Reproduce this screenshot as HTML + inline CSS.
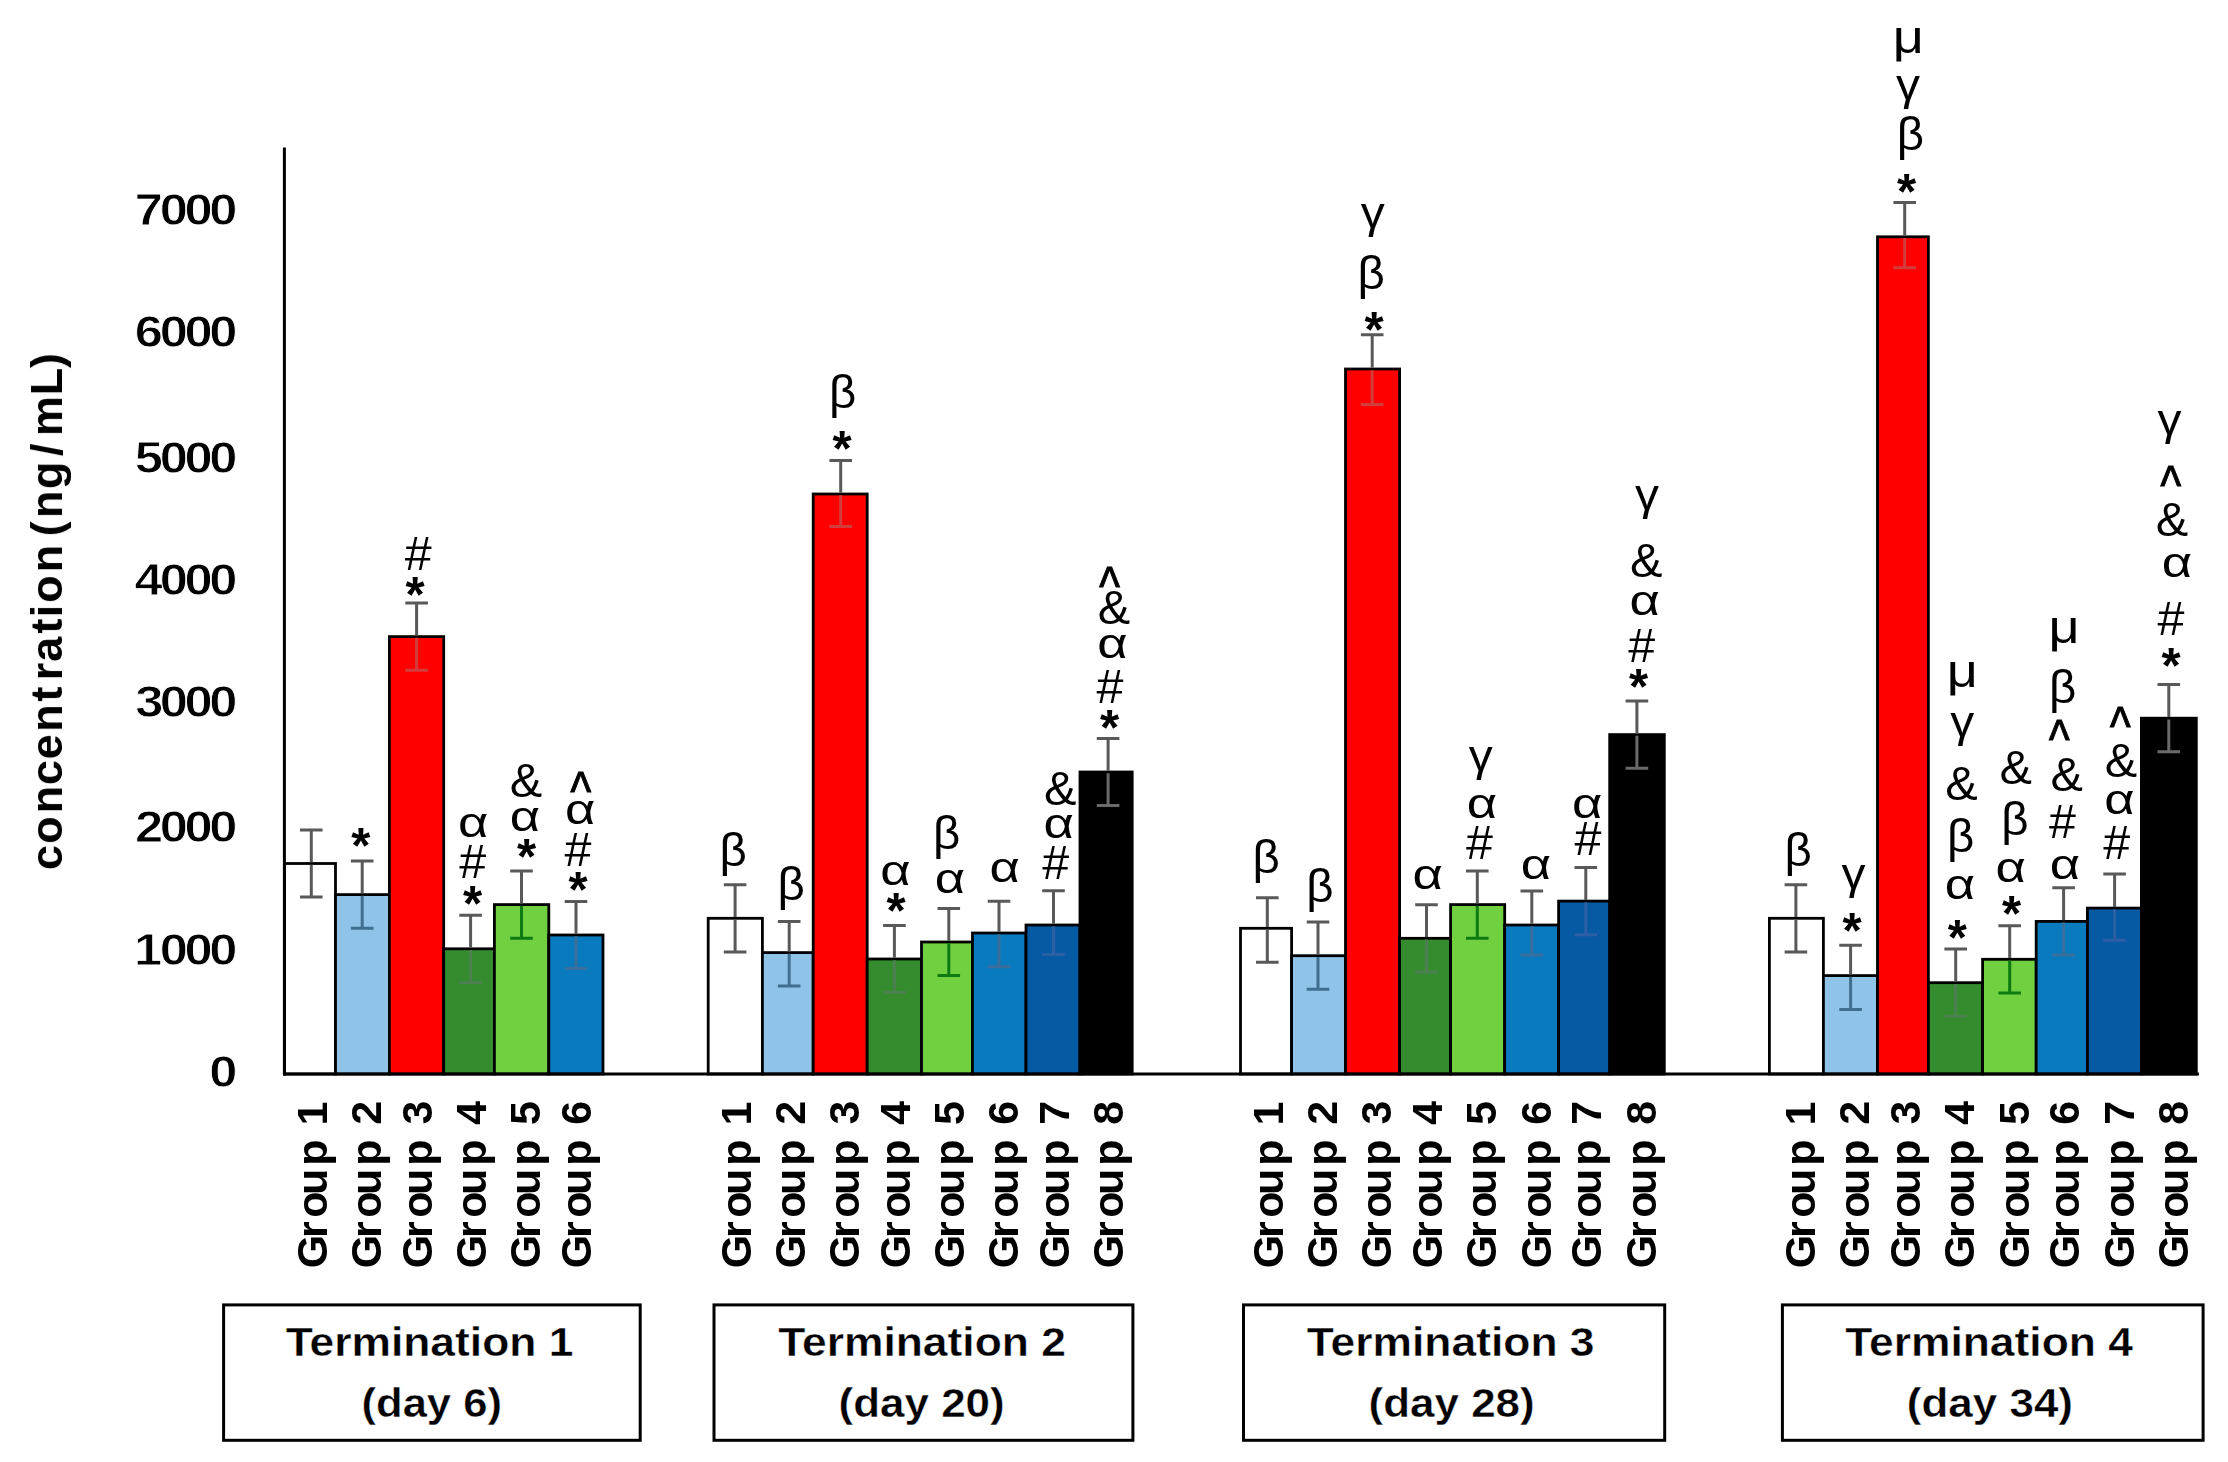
<!DOCTYPE html>
<html lang="en"><head><meta charset="utf-8"><title>Concentration chart</title>
<style>html,body{margin:0;padding:0;background:#fff}svg{display:block}text{font-family:"Liberation Sans",sans-serif;fill:#000}.b{font-weight:bold}.k{stroke:#fff;stroke-width:0.4}.bar{stroke:#000;stroke-width:2.8}.t{stroke:#fff;stroke-width:0.8}.e{stroke:#595959;stroke-width:3;fill:none}</style></head><body>
<svg width="2228" height="1462" viewBox="0 0 2228 1462" role="img" aria-label="Bar chart of concentration (ng/mL) by group and termination day">
<rect width="2228" height="1462" fill="#fff"/>
<g id="chart" style="filter:blur(0.55px)">
<g class="bar">
<rect x="284.5" y="863.5" width="51" height="210.5" fill="#ffffff"/>
<rect x="335.5" y="894.6" width="53.9" height="179.4" fill="#8fc3e8"/>
<rect x="389.4" y="636.6" width="54.3" height="437.4" fill="#ff0000"/>
<rect x="443.7" y="948.8" width="50.7" height="125.2" fill="#358c2e"/>
<rect x="494.4" y="904.6" width="54.4" height="169.4" fill="#70d040"/>
<rect x="548.8" y="935" width="54.2" height="139" fill="#0a7abf"/>
<rect x="708.2" y="918.3" width="54.2" height="155.7" fill="#ffffff"/>
<rect x="762.4" y="952.6" width="50.8" height="121.4" fill="#8fc3e8"/>
<rect x="813.2" y="494" width="54" height="580" fill="#ff0000"/>
<rect x="867.2" y="959" width="54.3" height="115" fill="#358c2e"/>
<rect x="921.5" y="942" width="51" height="132" fill="#70d040"/>
<rect x="972.5" y="933" width="53.5" height="141" fill="#0a7abf"/>
<rect x="1026" y="925" width="54" height="149" fill="#0659a3"/>
<rect x="1080" y="772" width="52.2" height="302" fill="#000000"/>
<rect x="1240.5" y="928.3" width="51.1" height="145.7" fill="#ffffff"/>
<rect x="1291.6" y="955.7" width="53.9" height="118.3" fill="#8fc3e8"/>
<rect x="1345.5" y="369" width="54.1" height="705" fill="#ff0000"/>
<rect x="1399.6" y="938.3" width="51" height="135.7" fill="#358c2e"/>
<rect x="1450.6" y="904.6" width="54.1" height="169.4" fill="#70d040"/>
<rect x="1504.7" y="925" width="53.9" height="149" fill="#0a7abf"/>
<rect x="1558.6" y="901.1" width="51.1" height="172.9" fill="#0659a3"/>
<rect x="1609.7" y="734.6" width="54.6" height="339.4" fill="#000000"/>
<rect x="1769.4" y="918.3" width="54" height="155.7" fill="#ffffff"/>
<rect x="1823.4" y="975.6" width="54.1" height="98.4" fill="#8fc3e8"/>
<rect x="1877.5" y="236.8" width="50.9" height="837.2" fill="#ff0000"/>
<rect x="1928.4" y="982.7" width="54.2" height="91.3" fill="#358c2e"/>
<rect x="1982.6" y="959.3" width="53.6" height="114.7" fill="#70d040"/>
<rect x="2036.2" y="921.4" width="51.2" height="152.6" fill="#0a7abf"/>
<rect x="2087.4" y="908.1" width="54" height="165.9" fill="#0659a3"/>
<rect x="2141.4" y="718.2" width="54.9" height="355.8" fill="#000000"/>
</g>
<line x1="284.4" y1="147.5" x2="284.4" y2="1075.4" stroke="#000" stroke-width="3"/>
<line x1="283.2" y1="1074" x2="2198.9" y2="1074" stroke="#000" stroke-width="3"/>
<path class="e" d="M300 829.9H322.6M311.3 829.9V862.3"/>
<path class="e" style="stroke:#595959" d="M311.3 864.7V897.1M300 897.1H322.6"/>
<path class="e" d="M350.9 861H373.5M362.2 861V893.4"/>
<path class="e" style="stroke:#3f6f8f" d="M362.2 895.8V928.2M350.9 928.2H373.5"/>
<path class="e" d="M405.3 603H427.9M416.6 603V635.4"/>
<path class="e" style="stroke:#d23c3c" d="M416.6 637.8V670.2M405.3 670.2H427.9"/>
<path class="e" d="M459.3 915.2H481.9M470.6 915.2V947.6"/>
<path class="e" style="stroke:#4c8050" d="M470.6 950V982.4M459.3 982.4H481.9"/>
<path class="e" d="M510.2 871H532.8M521.5 871V903.4"/>
<path class="e" style="stroke:#0e7a12" d="M521.5 905.8V938.2M510.2 938.2H532.8"/>
<path class="e" d="M564.7 901.4H587.3M576 901.4V933.8"/>
<path class="e" style="stroke:#3a6e9c" d="M576 936.2V968.6M564.7 968.6H587.3"/>
<path class="e" d="M723.8 884.7H746.4M735.1 884.7V917.1"/>
<path class="e" style="stroke:#595959" d="M735.1 919.5V951.9M723.8 951.9H746.4"/>
<path class="e" d="M777.9 921.4H800.5M789.2 921.4V951.4"/>
<path class="e" style="stroke:#3f6f8f" d="M789.2 953.8V986M777.9 986H800.5"/>
<path class="e" d="M829.4 460.5H852M840.7 460.5V492.8"/>
<path class="e" style="stroke:#d23c3c" d="M840.7 495.2V526.5M829.4 526.5H852"/>
<path class="e" d="M883.1 925.4H905.7M894.4 925.4V957.8"/>
<path class="e" style="stroke:#4c8050" d="M894.4 960.2V992.6M883.1 992.6H905.7"/>
<path class="e" d="M937.5 908.4H960.1M948.8 908.4V940.8"/>
<path class="e" style="stroke:#0e7a12" d="M948.8 943.2V975.6M937.5 975.6H960.1"/>
<path class="e" d="M987.7 901.2H1010.3M999 901.2V931.8"/>
<path class="e" style="stroke:#3a6e9c" d="M999 934.2V966.8M987.7 966.8H1010.3"/>
<path class="e" d="M1042.2 890.8H1064.8M1053.5 890.8V923.8"/>
<path class="e" style="stroke:#2c5fa3" d="M1053.5 926.2V954.6M1042.2 954.6H1064.8"/>
<path class="e" d="M1096.8 738.4H1119.4M1108.1 738.4V770.8"/>
<path class="e" style="stroke:#6a6a6a" d="M1108.1 773.2V805.6M1096.8 805.6H1119.4"/>
<path class="e" d="M1256 897.7H1278.6M1267.3 897.7V927.1"/>
<path class="e" style="stroke:#595959" d="M1267.3 929.5V962.3M1256 962.3H1278.6"/>
<path class="e" d="M1306.7 922.1H1329.3M1318 922.1V954.5"/>
<path class="e" style="stroke:#3f6f8f" d="M1318 956.9V989.3M1306.7 989.3H1329.3"/>
<path class="e" d="M1360.9 334.8H1383.5M1372.2 334.8V367.8"/>
<path class="e" style="stroke:#d23c3c" d="M1372.2 370.2V404.4M1360.9 404.4H1383.5"/>
<path class="e" d="M1415.2 904.7H1437.8M1426.5 904.7V937.1"/>
<path class="e" style="stroke:#4c8050" d="M1426.5 939.5V971.9M1415.2 971.9H1437.8"/>
<path class="e" d="M1466 871H1488.6M1477.3 871V903.4"/>
<path class="e" style="stroke:#0e7a12" d="M1477.3 905.8V938.2M1466 938.2H1488.6"/>
<path class="e" d="M1520.5 891H1543.1M1531.8 891V923.8"/>
<path class="e" style="stroke:#3a6e9c" d="M1531.8 926.2V955M1520.5 955H1543.1"/>
<path class="e" d="M1574.5 867.5H1597.1M1585.8 867.5V899.9"/>
<path class="e" style="stroke:#2c5fa3" d="M1585.8 902.3V934.7M1574.5 934.7H1597.1"/>
<path class="e" d="M1625.6 701H1648.2M1636.9 701V733.4"/>
<path class="e" style="stroke:#6a6a6a" d="M1636.9 735.8V768.2M1625.6 768.2H1648.2"/>
<path class="e" d="M1784.6 884.7H1807.2M1795.9 884.7V917.1"/>
<path class="e" style="stroke:#595959" d="M1795.9 919.5V951.9M1784.6 951.9H1807.2"/>
<path class="e" d="M1839.3 945.2H1861.9M1850.6 945.2V974.4"/>
<path class="e" style="stroke:#3f6f8f" d="M1850.6 976.8V1009.6M1839.3 1009.6H1861.9"/>
<path class="e" d="M1893.4 202.6H1916M1904.7 202.6V235.6"/>
<path class="e" style="stroke:#d23c3c" d="M1904.7 238V267.8M1893.4 267.8H1916"/>
<path class="e" d="M1944.4 949.1H1967M1955.7 949.1V981.5"/>
<path class="e" style="stroke:#4c8050" d="M1955.7 983.9V1016.3M1944.4 1016.3H1967"/>
<path class="e" d="M1998.4 925.7H2021M2009.7 925.7V958.1"/>
<path class="e" style="stroke:#0e7a12" d="M2009.7 960.5V992.9M1998.4 992.9H2021"/>
<path class="e" d="M2052.3 887.8H2074.9M2063.6 887.8V920.2"/>
<path class="e" style="stroke:#3a6e9c" d="M2063.6 922.6V955M2052.3 955H2074.9"/>
<path class="e" d="M2103.3 874.1H2125.9M2114.6 874.1V906.9"/>
<path class="e" style="stroke:#2c5fa3" d="M2114.6 909.3V940.3M2103.3 940.3H2125.9"/>
<path class="e" d="M2157.5 684.6H2180.1M2168.8 684.6V717"/>
<path class="e" style="stroke:#6a6a6a" d="M2168.8 719.4V751.8M2157.5 751.8H2180.1"/>
<text class="b t" font-size="44" transform="translate(0 225.12) scale(1.15 1)" x="117.28 138.87 160.46 182.05">7000</text>
<text class="b t" font-size="44" transform="translate(0 347.23) scale(1.15 1)" x="117.22 138.87 160.46 182.05">6000</text>
<text class="b t" font-size="44" transform="translate(0 472.73) scale(1.15 1)" x="117.17 138.87 160.46 182.05">5000</text>
<text class="b t" font-size="44" transform="translate(0 594.92) scale(1.15 1)" x="117.06 138.87 160.46 182.05">4000</text>
<text class="b t" font-size="44" transform="translate(0 717.22) scale(1.15 1)" x="117.55 138.87 160.46 182.05">3000</text>
<text class="b t" font-size="44" transform="translate(0 842.22) scale(1.15 1)" x="117.39 138.87 160.46 182.05">2000</text>
<text class="b t" font-size="44" transform="translate(0 964.72) scale(1.15 1)" x="116.51 138.87 160.46 182.05">1000</text>
<text class="b t" font-size="44" transform="translate(0 1086.72) scale(1.15 1)" x="182.05">0</text>
<text class="b" font-size="45" transform="translate(62 865.1) rotate(-90)" x="-4.92 21.37 51.81 79.93 105.64 133.21 163.57 184.7 203.32 231.57 247.66 262.22 292.66 320 328.75 347.06 376.04 408.96 428.97 469.63 496.94">concentration (ng/mL)</text>
<text class="b" font-size="43" transform="translate(326.9 1265.6) rotate(-90)" x="-2.68 27.49 47.78 70.69 99.95 128 140.06">Group 1</text>
<text class="b" font-size="43" transform="translate(380.8 1265.6) rotate(-90)" x="-2.68 27.49 47.78 70.69 99.95 128 140.93">Group 2</text>
<text class="b" font-size="43" transform="translate(431.9 1265.6) rotate(-90)" x="-2.68 27.49 47.78 70.69 99.95 128 141.09">Group 3</text>
<text class="b" font-size="43" transform="translate(485.6 1265.6) rotate(-90)" x="-2.68 27.49 47.78 70.69 99.95 128 140.6">Group 4</text>
<text class="b" font-size="43" transform="translate(539.6 1265.6) rotate(-90)" x="-2.68 27.49 47.78 70.69 99.95 128 140.71">Group 5</text>
<text class="b" font-size="43" transform="translate(590.8 1265.6) rotate(-90)" x="-2.68 27.49 47.78 70.69 99.95 128 140.76">Group 6</text>
<text class="b" font-size="43" transform="translate(750.5 1265.6) rotate(-90)" x="-2.68 27.49 47.78 70.69 99.95 128 140.06">Group 1</text>
<text class="b" font-size="43" transform="translate(804.6 1265.6) rotate(-90)" x="-2.68 27.49 47.78 70.69 99.95 128 140.93">Group 2</text>
<text class="b" font-size="43" transform="translate(859 1265.6) rotate(-90)" x="-2.68 27.49 47.78 70.69 99.95 128 141.09">Group 3</text>
<text class="b" font-size="43" transform="translate(910 1265.6) rotate(-90)" x="-2.68 27.49 47.78 70.69 99.95 128 140.6">Group 4</text>
<text class="b" font-size="43" transform="translate(964 1265.6) rotate(-90)" x="-2.68 27.49 47.78 70.69 99.95 128 140.71">Group 5</text>
<text class="b" font-size="43" transform="translate(1018.1 1265.6) rotate(-90)" x="-2.68 27.49 47.78 70.69 99.95 128 140.76">Group 6</text>
<text class="b" font-size="43" transform="translate(1069 1265.6) rotate(-90)" x="-2.68 27.49 47.78 70.69 99.95 128 140.82">Group 7</text>
<text class="b" font-size="43" transform="translate(1123.1 1265.6) rotate(-90)" x="-2.68 27.49 47.78 70.69 99.95 128 140.76">Group 8</text>
<text class="b" font-size="43" transform="translate(1282.9 1265.6) rotate(-90)" x="-2.68 27.49 47.78 70.69 99.95 128 140.06">Group 1</text>
<text class="b" font-size="43" transform="translate(1337 1265.6) rotate(-90)" x="-2.68 27.49 47.78 70.69 99.95 128 140.93">Group 2</text>
<text class="b" font-size="43" transform="translate(1391.2 1265.6) rotate(-90)" x="-2.68 27.49 47.78 70.69 99.95 128 141.09">Group 3</text>
<text class="b" font-size="43" transform="translate(1442 1265.6) rotate(-90)" x="-2.68 27.49 47.78 70.69 99.95 128 140.6">Group 4</text>
<text class="b" font-size="43" transform="translate(1496.2 1265.6) rotate(-90)" x="-2.68 27.49 47.78 70.69 99.95 128 140.71">Group 5</text>
<text class="b" font-size="43" transform="translate(1550.5 1265.6) rotate(-90)" x="-2.68 27.49 47.78 70.69 99.95 128 140.76">Group 6</text>
<text class="b" font-size="43" transform="translate(1601.2 1265.6) rotate(-90)" x="-2.68 27.49 47.78 70.69 99.95 128 140.82">Group 7</text>
<text class="b" font-size="43" transform="translate(1655.6 1265.6) rotate(-90)" x="-2.68 27.49 47.78 70.69 99.95 128 140.76">Group 8</text>
<text class="b" font-size="43" transform="translate(1814.8 1265.6) rotate(-90)" x="-2.68 27.49 47.78 70.69 99.95 128 140.06">Group 1</text>
<text class="b" font-size="43" transform="translate(1869 1265.6) rotate(-90)" x="-2.68 27.49 47.78 70.69 99.95 128 140.93">Group 2</text>
<text class="b" font-size="43" transform="translate(1920 1265.6) rotate(-90)" x="-2.68 27.49 47.78 70.69 99.95 128 141.09">Group 3</text>
<text class="b" font-size="43" transform="translate(1974.4 1265.6) rotate(-90)" x="-2.68 27.49 47.78 70.69 99.95 128 140.6">Group 4</text>
<text class="b" font-size="43" transform="translate(2028.5 1265.6) rotate(-90)" x="-2.68 27.49 47.78 70.69 99.95 128 140.71">Group 5</text>
<text class="b" font-size="43" transform="translate(2079.4 1265.6) rotate(-90)" x="-2.68 27.49 47.78 70.69 99.95 128 140.76">Group 6</text>
<text class="b" font-size="43" transform="translate(2133.6 1265.6) rotate(-90)" x="-2.68 27.49 47.78 70.69 99.95 128 140.82">Group 7</text>
<text class="b" font-size="43" transform="translate(2187.7 1265.6) rotate(-90)" x="-2.68 27.49 47.78 70.69 99.95 128 140.76">Group 8</text>
<rect x="223.6" y="1304.9" width="416.6" height="135.4" fill="#fff" stroke="#000" stroke-width="3"/>
<text class="b k" font-size="41.5" transform="translate(285.64 1356.2) scale(1.07 1)">Termination 1</text>
<text class="b k" font-size="41.5" transform="translate(361.51 1417) scale(1.05 1)">(day 6)</text>
<rect x="714" y="1304.9" width="418.9" height="135.4" fill="#fff" stroke="#000" stroke-width="3"/>
<text class="b k" font-size="41.5" transform="translate(778.14 1356.2) scale(1.07 1)">Termination 2</text>
<text class="b k" font-size="41.5" transform="translate(838.5 1417) scale(1.06 1)">(day 20)</text>
<rect x="1243.5" y="1304.9" width="421.2" height="135.4" fill="#fff" stroke="#000" stroke-width="3"/>
<text class="b k" font-size="41.5" transform="translate(1306.74 1356.2) scale(1.07 1)">Termination 3</text>
<text class="b k" font-size="41.5" transform="translate(1368.51 1417) scale(1.06 1)">(day 28)</text>
<rect x="1782.4" y="1304.9" width="420.7" height="135.4" fill="#fff" stroke="#000" stroke-width="3"/>
<text class="b k" font-size="41.5" transform="translate(1845.14 1356.2) scale(1.07 1)">Termination 4</text>
<text class="b k" font-size="41.5" transform="translate(1906.8 1417) scale(1.06 1)">(day 34)</text>
<text font-size="49.66" font-weight="bold" transform="translate(351.18 863.39) scale(0.99 1)">*</text>
<text font-size="48.91" font-weight="normal" transform="translate(404.81 570.45) scale(0.99 1)">#</text>
<text font-size="49.66" font-weight="bold" transform="translate(405.38 612.39) scale(0.99 1)">*</text>
<text font-size="43.11" font-weight="normal" transform="translate(457.91 837.37) scale(1.22 1)">α</text>
<text font-size="48.91" font-weight="normal" transform="translate(459.21 877.75) scale(0.99 1)">#</text>
<text font-size="49.66" font-weight="bold" transform="translate(463.08 920.89) scale(0.99 1)">*</text>
<text font-size="47.69" font-weight="normal" transform="translate(509.8 797.27) scale(1.02 1)">&amp;</text>
<text font-size="43.11" font-weight="normal" transform="translate(509.81 831.37) scale(1.22 1)">α</text>
<text font-size="49.66" font-weight="bold" transform="translate(516.88 874.29) scale(0.99 1)">*</text>
<text font-size="55.56" font-weight="normal" stroke="#000" stroke-width="1.2" transform="translate(570.48 810.19) scale(0.79 1)">^</text>
<text font-size="43.11" font-weight="normal" transform="translate(564.91 824.17) scale(1.22 1)">α</text>
<text font-size="48.91" font-weight="normal" transform="translate(564.51 866.15) scale(0.99 1)">#</text>
<text font-size="49.66" font-weight="bold" transform="translate(568.38 907.49) scale(0.99 1)">*</text>
<text font-size="46.11" font-weight="normal" transform="translate(719.39 865.73) scale(1.03 1)">β</text>
<text font-size="46.11" font-weight="normal" transform="translate(777.59 899.63) scale(1.03 1)">β</text>
<text font-size="49.66" font-weight="bold" transform="translate(832.48 466.49) scale(0.99 1)">*</text>
<text font-size="46.11" font-weight="normal" transform="translate(828.99 407.73) scale(1.03 1)">β</text>
<text font-size="49.66" font-weight="bold" transform="translate(886.38 927.89) scale(0.99 1)">*</text>
<text font-size="43.11" font-weight="normal" transform="translate(880.31 885.27) scale(1.22 1)">α</text>
<text font-size="43.11" font-weight="normal" transform="translate(934.71 892.57) scale(1.22 1)">α</text>
<text font-size="46.11" font-weight="normal" transform="translate(932.99 848.83) scale(1.03 1)">β</text>
<text font-size="43.11" font-weight="normal" transform="translate(989.41 881.87) scale(1.22 1)">α</text>
<text font-size="48.91" font-weight="normal" transform="translate(1042.21 878.65) scale(0.99 1)">#</text>
<text font-size="43.11" font-weight="normal" transform="translate(1043.51 838.07) scale(1.22 1)">α</text>
<text font-size="47.69" font-weight="normal" transform="translate(1044.1 804.77) scale(1.02 1)">&amp;</text>
<text font-size="49.66" font-weight="bold" transform="translate(1099.88 744.59) scale(0.99 1)">*</text>
<text font-size="48.91" font-weight="normal" transform="translate(1096.51 702.75) scale(0.99 1)">#</text>
<text font-size="43.11" font-weight="normal" transform="translate(1097.31 658.17) scale(1.22 1)">α</text>
<text font-size="47.69" font-weight="normal" transform="translate(1097.8 624.27) scale(1.02 1)">&amp;</text>
<text font-size="55.56" font-weight="normal" stroke="#000" stroke-width="1.2" transform="translate(1099.28 605.19) scale(0.79 1)">^</text>
<text font-size="46.11" font-weight="normal" transform="translate(1252.39 872.63) scale(1.03 1)">β</text>
<text font-size="46.11" font-weight="normal" transform="translate(1306.19 902.33) scale(1.03 1)">β</text>
<text font-size="49.66" font-weight="bold" transform="translate(1364.48 346.89) scale(0.99 1)">*</text>
<text font-size="46.11" font-weight="normal" transform="translate(1357.49 289.23) scale(1.03 1)">β</text>
<text font-size="44.9" font-weight="normal" transform="translate(1360.66 228.18) scale(1.07 1)">γ</text>
<text font-size="43.11" font-weight="normal" transform="translate(1412.41 889.27) scale(1.22 1)">α</text>
<text font-size="48.91" font-weight="normal" transform="translate(1465.91 858.55) scale(0.99 1)">#</text>
<text font-size="43.11" font-weight="normal" transform="translate(1466.81 817.67) scale(1.22 1)">α</text>
<text font-size="44.9" font-weight="normal" transform="translate(1468.66 770.88) scale(1.07 1)">γ</text>
<text font-size="43.11" font-weight="normal" transform="translate(1520.71 878.67) scale(1.22 1)">α</text>
<text font-size="48.91" font-weight="normal" transform="translate(1574.51 854.95) scale(0.99 1)">#</text>
<text font-size="43.11" font-weight="normal" transform="translate(1571.91 817.77) scale(1.22 1)">α</text>
<text font-size="49.66" font-weight="bold" transform="translate(1628.88 703.99) scale(0.99 1)">*</text>
<text font-size="48.91" font-weight="normal" transform="translate(1628.31 662.05) scale(0.99 1)">#</text>
<text font-size="43.11" font-weight="normal" transform="translate(1629.41 614.67) scale(1.22 1)">α</text>
<text font-size="47.69" font-weight="normal" transform="translate(1630 576.77) scale(1.02 1)">&amp;</text>
<text font-size="44.9" font-weight="normal" transform="translate(1635.06 510.28) scale(1.07 1)">γ</text>
<text font-size="46.11" font-weight="normal" transform="translate(1784.59 865.83) scale(1.03 1)">β</text>
<text font-size="49.66" font-weight="bold" transform="translate(1842.48 948.09) scale(0.99 1)">*</text>
<text font-size="44.9" font-weight="normal" transform="translate(1841.56 889.48) scale(1.07 1)">γ</text>
<text font-size="49.66" font-weight="bold" transform="translate(1896.88 208.89) scale(0.99 1)">*</text>
<text font-size="46.11" font-weight="normal" transform="translate(1896.79 150.13) scale(1.03 1)">β</text>
<text font-size="44.9" font-weight="normal" transform="translate(1896.06 99.58) scale(1.07 1)">γ</text>
<text font-size="45.83" font-weight="normal" transform="translate(1892.64 52.68) scale(1.18 1)">μ</text>
<text font-size="49.66" font-weight="bold" transform="translate(1947.68 955.19) scale(0.99 1)">*</text>
<text font-size="43.11" font-weight="normal" transform="translate(1944.81 898.97) scale(1.22 1)">α</text>
<text font-size="46.11" font-weight="normal" transform="translate(1947.09 851.93) scale(1.03 1)">β</text>
<text font-size="47.69" font-weight="normal" transform="translate(1945.3 800.27) scale(1.02 1)">&amp;</text>
<text font-size="44.9" font-weight="normal" transform="translate(1950.16 737.08) scale(1.07 1)">γ</text>
<text font-size="45.83" font-weight="normal" transform="translate(1946.74 686.68) scale(1.18 1)">μ</text>
<text font-size="49.66" font-weight="bold" transform="translate(2001.88 931.39) scale(0.99 1)">*</text>
<text font-size="43.11" font-weight="normal" transform="translate(1995.51 882.07) scale(1.22 1)">α</text>
<text font-size="46.11" font-weight="normal" transform="translate(2001.29 834.83) scale(1.03 1)">β</text>
<text font-size="47.69" font-weight="normal" transform="translate(1999.5 783.77) scale(1.02 1)">&amp;</text>
<text font-size="43.11" font-weight="normal" transform="translate(2049.71 878.67) scale(1.22 1)">α</text>
<text font-size="48.91" font-weight="normal" transform="translate(2048.91 838.45) scale(0.99 1)">#</text>
<text font-size="47.69" font-weight="normal" transform="translate(2050.5 790.67) scale(1.02 1)">&amp;</text>
<text font-size="55.56" font-weight="normal" stroke="#000" stroke-width="1.2" transform="translate(2048.98 758.19) scale(0.79 1)">^</text>
<text font-size="46.11" font-weight="normal" transform="translate(2048.89 702.73) scale(1.03 1)">β</text>
<text font-size="45.83" font-weight="normal" transform="translate(2048.44 642.58) scale(1.18 1)">μ</text>
<text font-size="48.91" font-weight="normal" transform="translate(2103.21 858.75) scale(0.99 1)">#</text>
<text font-size="43.11" font-weight="normal" transform="translate(2104.21 814.27) scale(1.22 1)">α</text>
<text font-size="47.69" font-weight="normal" transform="translate(2104.8 776.57) scale(1.02 1)">&amp;</text>
<text font-size="55.56" font-weight="normal" stroke="#000" stroke-width="1.2" transform="translate(2109.88 744.59) scale(0.79 1)">^</text>
<text font-size="49.66" font-weight="bold" transform="translate(2161.38 683.49) scale(0.99 1)">*</text>
<text font-size="48.91" font-weight="normal" transform="translate(2157.51 634.65) scale(0.99 1)">#</text>
<text font-size="43.11" font-weight="normal" transform="translate(2161.71 576.97) scale(1.22 1)">α</text>
<text font-size="47.69" font-weight="normal" transform="translate(2155.8 535.67) scale(1.02 1)">&amp;</text>
<text font-size="55.56" font-weight="normal" stroke="#000" stroke-width="1.2" transform="translate(2160.58 503.89) scale(0.79 1)">^</text>
<text font-size="44.9" font-weight="normal" transform="translate(2157.46 435.18) scale(1.07 1)">γ</text>
</g>
</svg></body></html>
